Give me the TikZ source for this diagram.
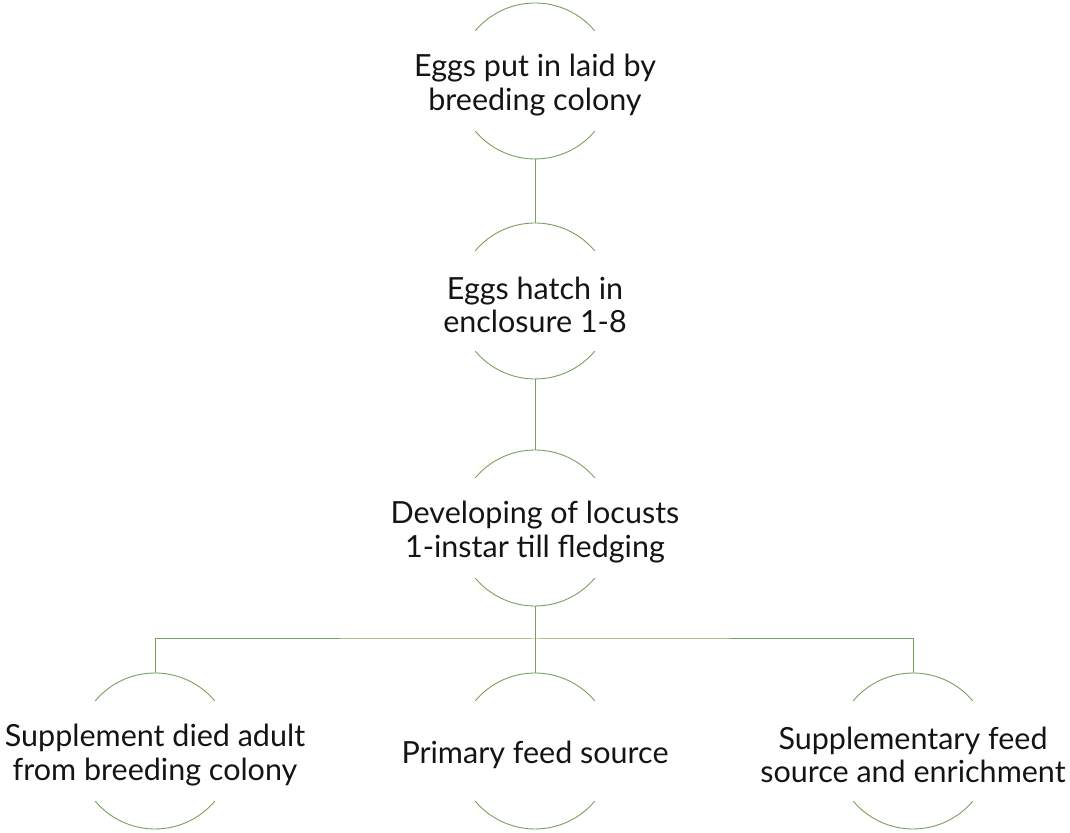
\documentclass[tikz,border=0pt]{standalone}
\usepackage{fontspec}
\setmainfont{Lato}
\definecolor{linegreen}{RGB}{122,158,92}
\definecolor{txt}{RGB}{20,20,20}
\tikzset{
  stage/.style={circle, minimum size=156pt, inner sep=0pt, outer sep=0pt},
  stagetext/.style={align=center, text=txt, inner sep=0pt, yshift=-4pt,
    font=\fontsize{30.5}{33.5}\selectfont},
  conn/.style={draw=linegreen, line width=1pt},
  arcline/.style={draw=linegreen, line width=0.9pt}
}
\begin{document}
\begin{tikzpicture}[x=1pt,y=1pt]
\useasboundingbox (0,0) rectangle (1070,832);
\node[stage, label={[stagetext]center:{Eggs put in laid by\\breeding colony}}] (A) at (535,751) {};
\node[stage, label={[stagetext]center:{Eggs hatch in\\enclosure 1-8}}] (B) at (535,531) {};
\node[stage, label={[stagetext]center:{Developing of locusts\\1-instar till fledging}}] (C) at (535,304) {};
\node[stage, label={[stagetext]center:{Supplement died adult\\from breeding colony}}] (D1) at (155,81) {};
\node[stage, label={[stagetext]center:{Primary feed source}}] (D2) at (535,81) {};
\node[stage, label={[stagetext]center:{Supplementary feed\\source and enrichment}}] (D3) at (913,81) {};
\foreach \n in {A,B,C,D1,D2,D3}{
  \draw[arcline] (\n.40) arc[start angle=40,end angle=140,radius=78pt];
  \draw[arcline] (\n.220) arc[start angle=220,end angle=320,radius=78pt];
}
\coordinate (bar) at (535,193);
\draw[conn] (A.south) -- (B.north);
\draw[conn] (B.south) -- (C.north);
\draw[conn] (C.south) -- (D2.north);
\draw[conn] (D1.north) |- (bar) -| (D3.north);
\end{tikzpicture}
\end{document}
